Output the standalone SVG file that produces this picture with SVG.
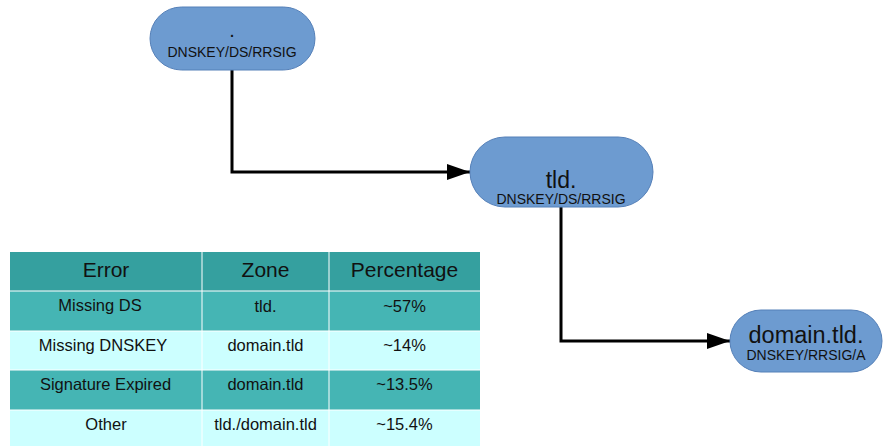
<svg xmlns="http://www.w3.org/2000/svg" width="883" height="446" viewBox="0 0 883 446">
<defs>
<marker id="arr" markerUnits="userSpaceOnUse" markerWidth="24" markerHeight="16" refX="23" refY="8" orient="auto"><path d="M0,0 L23,8 L0,16 Z" fill="#000"/></marker>
<style>
.node{fill:#6d9bd0;stroke:#5580b8;stroke-width:1}
.t{font-family:"Liberation Sans",Arial,sans-serif;fill:#111;text-anchor:middle}
.conn{fill:none;stroke:#000;stroke-width:3}
.hd{fill:#35a09f}
.dk{fill:#45b5b4}
.lt{fill:#ccffff}
.grid{stroke:#ffffff;stroke-width:1;fill:none}
</style>
</defs>
<rect width="883" height="446" fill="#fff"/>
<g id="connectors">
<path class="conn" d="M232,70 V172 H470" marker-end="url(#arr)"/>
<path class="conn" d="M561,207 V341 H730" marker-end="url(#arr)"/>
</g>
<g id="root">
<rect class="node" x="150" y="7" width="165" height="63" rx="31.5"/>
<text class="t" x="232" y="37" font-size="20">.</text>
<text class="t" x="232" y="57" font-size="14">DNSKEY/DS/RRSIG</text>
</g>
<g id="tld">
<rect class="node" x="470" y="137" width="183" height="70" rx="35"/>
<text class="t" x="561" y="188" font-size="23">tld.</text>
<text class="t" x="561" y="204" font-size="14">DNSKEY/DS/RRSIG</text>
</g>
<g id="domain">
<rect class="node" x="730" y="310" width="152" height="62" rx="31"/>
<text class="t" x="806" y="343" font-size="23.5">domain.tld.</text>
<text class="t" x="806" y="360" font-size="14">DNSKEY/RRSIG/A</text>
</g>
<g id="table">
<rect class="hd" x="10" y="252" width="470" height="39"/>
<rect class="dk" x="10" y="291" width="470" height="40"/>
<rect class="lt" x="10" y="331" width="470" height="39"/>
<rect class="dk" x="10" y="370" width="470" height="40"/>
<rect class="lt" x="10" y="410" width="470" height="36"/>
<path class="grid" d="M10,291 H480 M10,331 H480 M10,370 H480 M10,410 H480 M202,252 V446 M329,252 V446"/>
<text class="t" x="106" y="277" font-size="21">Error</text>
<text class="t" x="265.5" y="277" font-size="21">Zone</text>
<text class="t" x="404.5" y="277" font-size="21">Percentage</text>
<text class="t" x="100" y="311" font-size="16.5">Missing DS</text>
<text class="t" x="265.5" y="312" font-size="16.5">tld.</text>
<text class="t" x="404.5" y="312" font-size="16.5">~57%</text>
<text class="t" x="103" y="351" font-size="16.5">Missing DNSKEY</text>
<text class="t" x="265.5" y="351" font-size="16.5">domain.tld</text>
<text class="t" x="404.5" y="351" font-size="16.5">~14%</text>
<text class="t" x="105.5" y="390" font-size="16.5">Signature Expired</text>
<text class="t" x="265.5" y="390" font-size="16.5">domain.tld</text>
<text class="t" x="404.5" y="390" font-size="16.5">~13.5%</text>
<text class="t" x="106" y="430" font-size="16.5">Other</text>
<text class="t" x="265.5" y="430" font-size="16.5">tld./domain.tld</text>
<text class="t" x="404.5" y="430" font-size="16.5">~15.4%</text>
</g>
</svg>
